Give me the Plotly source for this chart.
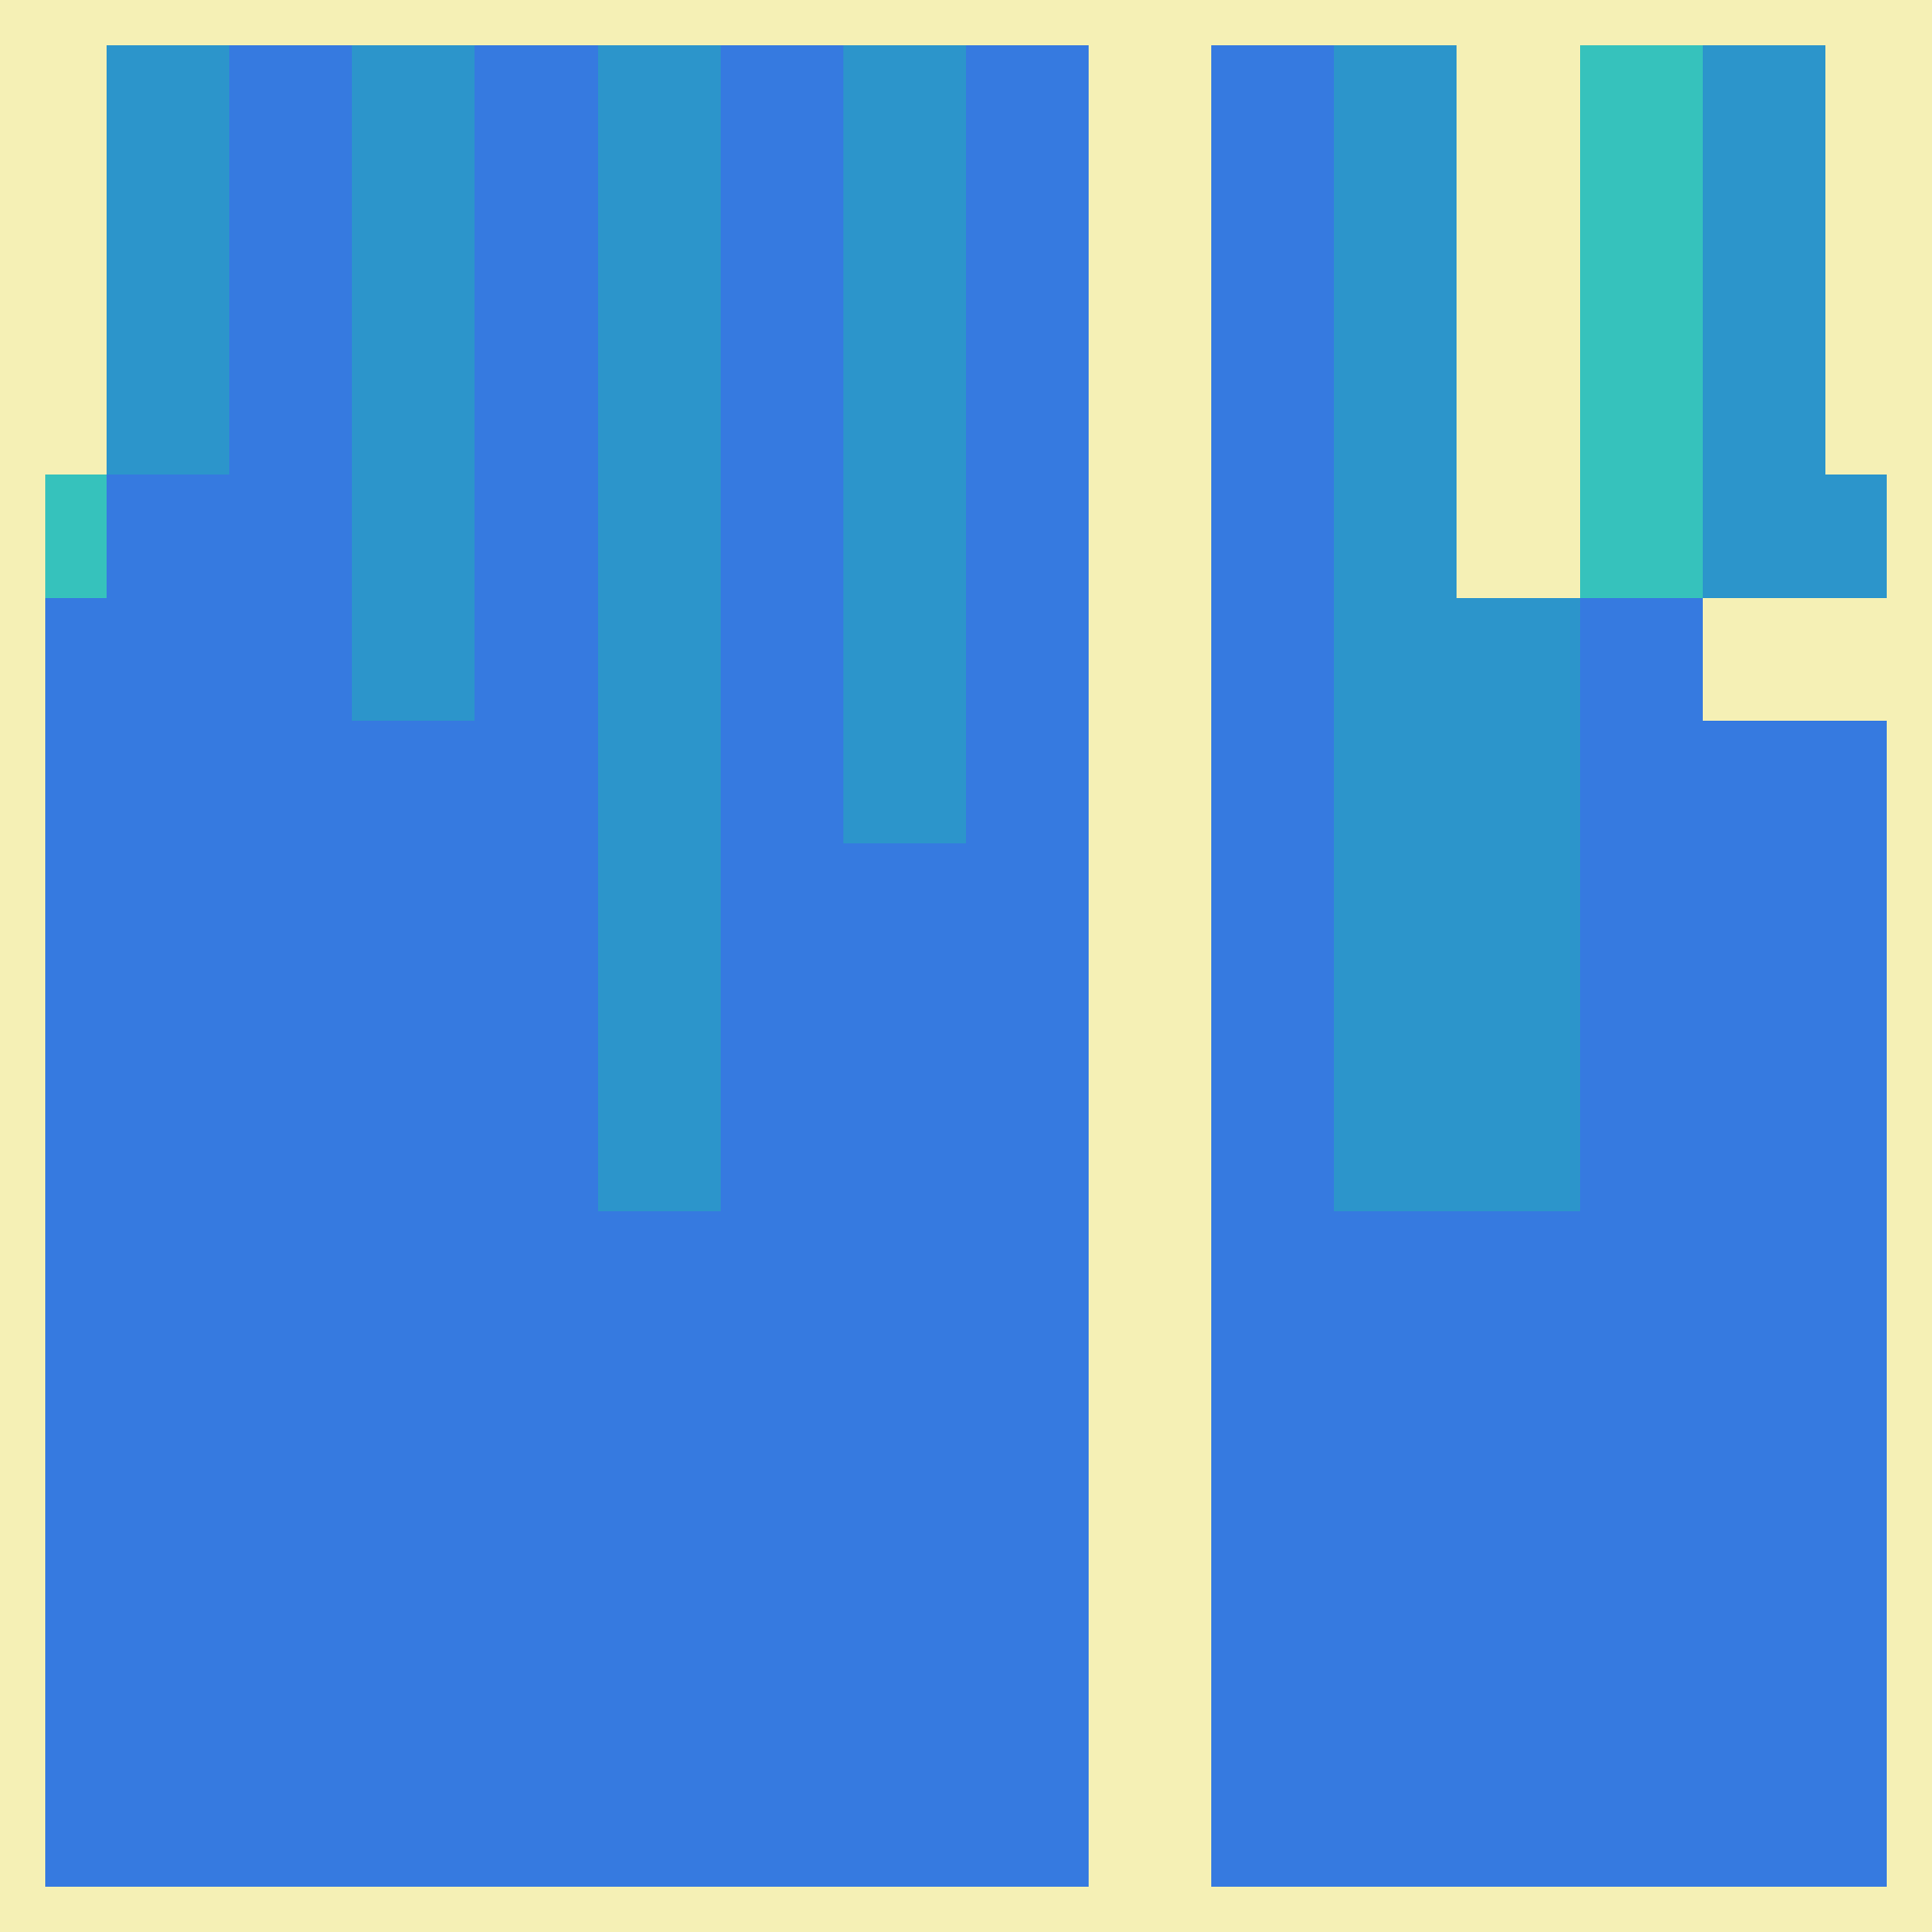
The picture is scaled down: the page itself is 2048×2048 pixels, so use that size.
import plotly.graph_objects as go

# Grid cell categories (0 = blue, 1 = mid blue, 2 = teal, None = empty)
N = None
row_00 = [N, 1, 0, 1, 0, 1, 0, 1, 0, N, 0, 1, N, 2, 1, N]
row_01 = [N, 1, 0, 1, 0, 1, 0, 1, 0, N, 0, 1, N, 2, 1, N]
row_02 = [N, 1, 0, 1, 0, 1, 0, 1, 0, N, 0, 1, N, 2, 1, N]
row_03 = [N, 1, 0, 1, 0, 1, 0, 1, 0, N, 0, 1, N, 2, 1, N]
row_04 = [2, 0, 0, 1, 0, 1, 0, 1, 0, N, 0, 1, N, 2, 1, 1]
row_05 = [0, 0, 0, 1, 0, 1, 0, 1, 0, N, 0, 1, 1, 0, N, N]
row_06 = [0, 0, 0, 0, 0, 1, 0, 1, 0, N, 0, 1, 1, 0, 0, 0]
row_07 = [0, 0, 0, 0, 0, 1, 0, 0, 0, N, 0, 1, 1, 0, 0, 0]
row_08 = [0, 0, 0, 0, 0, 1, 0, 0, 0, N, 0, 1, 1, 0, 0, 0]
row_09 = [0, 0, 0, 0, 0, 1, 0, 0, 0, N, 0, 1, 1, 0, 0, 0]
row_10 = [0, 0, 0, 0, 0, 0, 0, 0, 0, N, 0, 0, 0, 0, 0, 0]
row_11 = [0, 0, 0, 0, 0, 0, 0, 0, 0, N, 0, 0, 0, 0, 0, 0]
row_12 = [0, 0, 0, 0, 0, 0, 0, 0, 0, N, 0, 0, 0, 0, 0, 0]
row_13 = [0, 0, 0, 0, 0, 0, 0, 0, 0, N, 0, 0, 0, 0, 0, 0]
row_14 = [0, 0, 0, 0, 0, 0, 0, 0, 0, N, 0, 0, 0, 0, 0, 0]
row_15 = [0, 0, 0, 0, 0, 0, 0, 0, 0, N, 0, 0, 0, 0, 0, 0]

z = [row_00, row_01, row_02, row_03, row_04, row_05, row_06, row_07,
     row_08, row_09, row_10, row_11, row_12, row_13, row_14, row_15]

BG = "#F5F0B5"
colorscale = [[0, "#367AE0"], [0.5, "#2C95CB"], [1, "#36C2BC"]]

fig = go.Figure(go.Heatmap(
    z=z,
    colorscale=colorscale,
    zmin=0,
    zmax=2,
    showscale=False,
    hoverongaps=False,
))

fig.update_layout(
    margin=dict(l=40, r=40, t=40, b=40),
    paper_bgcolor=BG,
    plot_bgcolor=BG,
    xaxis=dict(range=[0, 15], visible=False, showgrid=False, zeroline=False),
    yaxis=dict(range=[15, 0], visible=False, showgrid=False, zeroline=False),
)

# page body gets the same cream so the default body margin does not show white
fig.write_html("out.html", post_script=f"document.body.style.background='{BG}';")
